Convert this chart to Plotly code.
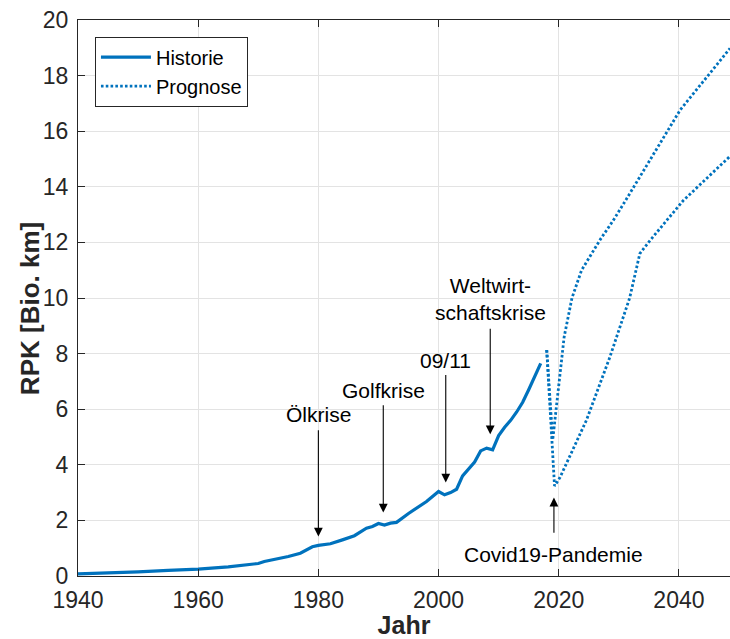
import plotly.graph_objects as go

# ---- data ----
hist_years = [1940, 1945, 1950, 1955, 1960, 1965, 1970, 1971, 1973, 1975, 1977, 1979, 1980,
              1982, 1984, 1986, 1988, 1989, 1990, 1991, 1992, 1993, 1995, 1997, 1998, 2000,
              2001, 2002, 2003, 2004, 2005, 2006, 2007, 2008, 2009, 2010, 2011, 2012, 2013,
              2014, 2015, 2016, 2017]
hist_rpk = [0.08, 0.11, 0.15, 0.2, 0.25, 0.33, 0.45, 0.52, 0.6, 0.7, 0.82, 1.05, 1.1,
            1.16, 1.3, 1.45, 1.72, 1.78, 1.89, 1.83, 1.9, 1.93, 2.25, 2.56, 2.68, 3.04,
            2.92, 3.0, 3.12, 3.6, 3.85, 4.1, 4.5, 4.6, 4.54, 5.05, 5.35, 5.6, 5.9,
            6.25, 6.7, 7.15, 7.65]

prog_high_years = [2018.0, 2019.0, 2020.9, 2022.2, 2023.8, 2026.9, 2029.1, 2031.1, 2040.2, 2048.5]
prog_high_rpk = [8.13, 4.9, 8.6, 10.0, 11.0, 12.1, 12.8, 13.5, 16.76, 18.98]

prog_low_years = [2018.0, 2019.3, 2020.2, 2024.6, 2028.5, 2031.8, 2033.5, 2035.2, 2038.0, 2040.7, 2048.5]
prog_low_rpk = [8.13, 3.24, 3.54, 5.6, 7.87, 10.0, 11.6, 12.07, 12.8, 13.5, 15.1]

x_ticks = [1940, 1960, 1980, 2000, 2020, 2040]
y_ticks = [0, 2, 4, 6, 8, 10, 12, 14, 16, 18, 20]

# events: label, year, arrow tip value, arrow tail value, label value
event_labels = ["Ölkrise", "Golfkrise", "09/11", "Weltwirt-<br>schaftskrise", "Covid19-Pandemie"]
event_years = [1980, 1990.8, 2001.2, 2008.6, 2019.2]
event_tip = [1.42, 2.28, 3.36, 5.1, 2.82]
event_tail = [5.3, 6.2, 7.28, 8.95, 1.5]
event_text_y = [5.8, 6.68, 7.74, 9.97, 0.78]

BLUE = "#0072BD"
DARK = "#262626"
FONT = "Liberation Sans, Arial, sans-serif"

fig = go.Figure()
fig.add_trace(go.Scatter(x=hist_years, y=hist_rpk, mode="lines", name="Historie",
                         line=dict(color=BLUE, width=3.2)))
fig.add_trace(go.Scatter(x=prog_high_years, y=prog_high_rpk, mode="lines", name="Prognose",
                         legendgroup="prog",
                         line=dict(color=BLUE, width=2.8, dash="2.6px,2.2px")))
fig.add_trace(go.Scatter(x=prog_low_years, y=prog_low_rpk, mode="lines", name="Prognose",
                         legendgroup="prog", showlegend=False,
                         line=dict(color=BLUE, width=2.8, dash="2.6px,2.2px")))

annotations = []
for lab, yr, tip, tail, ty in zip(event_labels, event_years, event_tip, event_tail, event_text_y):
    annotations.append(dict(x=yr, y=tip, ax=yr, ay=tail, xref="x", yref="y",
                            axref="x", ayref="y", text="", showarrow=True,
                            arrowhead=2, arrowsize=1.6, arrowwidth=1.1,
                            arrowcolor="black"))
    annotations.append(dict(x=yr, y=ty, xref="x", yref="y", text=lab, showarrow=False,
                            xanchor="center", yanchor="middle",
                            font=dict(family=FONT, size=21, color="black")))

# y-axis title as rotated annotation (positioned like the reference)
annotations.append(dict(x=-0.0736, y=0.48, xref="paper", yref="paper",
                        text="<b>RPK [Bio. km]</b>", textangle=-90, showarrow=False,
                        xanchor="center", yanchor="middle",
                        font=dict(family=FONT, size=26, color=DARK)))

fig.update_layout(
    width=730, height=639,
    margin=dict(l=78, r=0, t=20, b=63),
    paper_bgcolor="white", plot_bgcolor="white",
    font=dict(family=FONT, size=21, color=DARK),
    showlegend=True,
    legend=dict(x=0.026, y=0.97, xanchor="left", yanchor="top",
                bgcolor="white", bordercolor=DARK, borderwidth=1,
                font=dict(family=FONT, size=20, color="black"),
                itemwidth=50, tracegroupgap=0),
    annotations=annotations,
)
fig.update_xaxes(range=[1940, 2048.5], tickvals=x_ticks, ticks="inside", ticklen=7,
                 tickcolor=DARK, showline=True, linecolor=DARK, linewidth=1,
                 mirror="ticks", showgrid=True, gridcolor="#e3e3e3", gridwidth=1,
                 zeroline=False, ticklabelstandoff=3,
                 tickfont=dict(family=FONT, size=23, color=DARK),
                 title=dict(text="<b>Jahr</b>", font=dict(family=FONT, size=25, color=DARK),
                            standoff=5))
fig.update_yaxes(range=[0, 20], tickvals=y_ticks, ticks="inside", ticklen=7,
                 tickcolor=DARK, showline=True, linecolor=DARK, linewidth=1,
                 showgrid=True, gridcolor="#e3e3e3", gridwidth=1, zeroline=False,
                 ticklabelstandoff=4,
                 tickfont=dict(family=FONT, size=23, color=DARK))

fig.write_html("out.html")
